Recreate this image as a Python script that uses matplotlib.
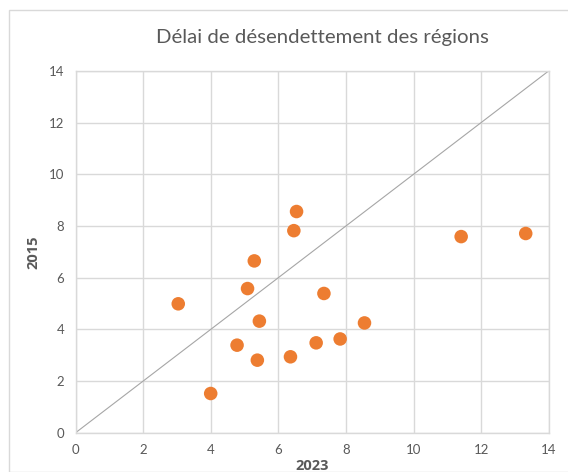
import matplotlib
matplotlib.use("Agg")
import matplotlib.pyplot as plt
from matplotlib.patches import Rectangle

x_2023 = [3.04, 4.00, 4.78, 5.09, 5.29, 5.38, 5.44, 6.36, 6.46, 6.54, 7.12, 7.35, 7.83, 8.55, 11.41, 13.32]
y_2015 = [4.99, 1.52, 3.39, 5.58, 6.65, 2.81, 4.32, 2.94, 7.82, 8.56, 3.48, 5.39, 3.63, 4.25, 7.59, 7.71]
ref_line = [0, 14]
ticks = [0, 2, 4, 6, 8, 10, 12, 14]
title = "Délai de désendettement des régions"
xlabel = "2023"
ylabel = "2015"

plt.rcParams['font.family'] = ['Lato', 'DejaVu Sans']
W, H = 568, 472
fig = plt.figure(figsize=(W / 100, H / 100), dpi=100)
fig.patch.set_facecolor("white")

# outer chart border
fig.patches.append(Rectangle((9 / W, 0), 1.0, 1 - 10 / H, transform=fig.transFigure,
                             fill=False, edgecolor="#D9D9D9", linewidth=1.0))

ax = fig.add_axes([75.5 / W, 1 - 432.8 / H, (548.7 - 75.5) / W, (432.8 - 70.9) / H])
ax.set_xlim(0, 14)
ax.set_ylim(0, 14)
ax.set_xticks(ticks)
ax.set_yticks(ticks)
ax.grid(True, color="#D9D9D9", linewidth=1.0)
ax.set_axisbelow(True)
for s in ax.spines.values():
    s.set_color("#D9D9D9")
    s.set_linewidth(1.0)
ax.tick_params(length=0, colors="#595959", labelsize=9.5, pad=8)

ax.plot(ref_line, ref_line, color="#A6A6A6", linewidth=0.8, zorder=2)
ax.scatter(x_2023, y_2015, s=95, color="#ED7D31", edgecolors="none", zorder=3)

ax.set_xlabel(xlabel, fontsize=10.5, fontweight="bold", color="#595959", labelpad=2,
              family=["Open Sans", "DejaVu Sans"])
ax.set_ylabel(ylabel, fontsize=10.5, fontweight="bold", color="#595959", labelpad=6,
              family=["Open Sans", "DejaVu Sans"])
fig.text(322 / W, 1 - 38 / H, title, fontsize=14.7, color="#595959", ha="center", va="center")

fig.savefig("out.png", dpi=100)
